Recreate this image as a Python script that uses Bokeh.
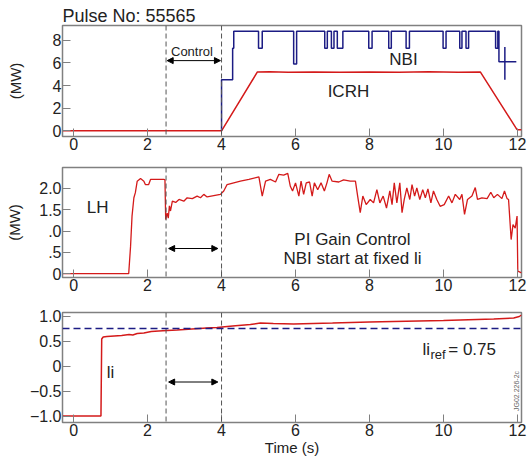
from bokeh.plotting import figure
from bokeh.models import Range1d, Span, Arrow, NormalHead, Label, FixedTicker
from bokeh.layouts import column
from bokeh.embed import file_html
from bokeh.resources import INLINE

# ---------------- data ----------------
x_ticks = [0, 2, 4, 6, 8, 10, 12]
control_start = 2.5
control_end = 4.0

# Panel 1: NBI (step changes) and ICRH power (MW)
nbi_t = [4.0, 4.0, 4.30, 4.33, 5.00, 5.10, 5.95, 6.03, 6.79, 6.86, 6.97, 7.04, 7.13, 7.28,
         7.98, 8.07, 8.52, 8.59, 8.99, 9.08, 9.99, 10.07, 10.44, 10.50, 10.61, 10.68,
         11.41, 11.47, 11.50, 11.97]
nbi_v = [0.0, 4.5, 7.3, 8.8, 7.3, 8.8, 5.9, 8.8, 7.3, 8.8, 7.3, 8.8, 7.3, 8.8,
         7.3, 8.8, 7.3, 8.8, 7.3, 8.8, 7.3, 8.8, 7.3, 8.8, 7.3, 8.8,
         7.3, 8.8, 6.1, 6.1]
nbi_spike_t = [11.66]
nbi_spike_lo = [4.5]
nbi_spike_hi = [7.4]

icrh_t = [-0.3, 4.0, 4.97, 5.3, 5.8, 6.5, 7.2, 8.0, 8.8, 9.6, 10.4, 11.0, 11.98, 12.0, 12.11]
icrh_v = [0.0, 0.0, 5.2, 5.22, 5.18, 5.2, 5.17, 5.2, 5.18, 5.21, 5.18, 5.19, 0.15, 0.1, 0.1]

# Panel 2: LH power (MW)
lh_t = [-0.3, 1.49, 1.54, 1.58, 1.63, 1.67, 1.72, 1.81, 1.90, 1.94, 2.03, 2.08, 2.44, 2.47,
        2.49, 2.53, 2.56, 2.59, 2.62, 2.67, 2.76, 2.85, 2.98, 3.07, 3.21, 3.34, 3.43, 3.52,
        3.61, 3.79, 3.97, 4.06, 4.15, 4.33, 4.51, 4.74, 5.01, 5.10, 5.19, 5.32, 5.46, 5.55,
        5.68, 5.79, 5.86, 5.92, 6.00, 6.09, 6.15, 6.22, 6.29, 6.38, 6.45, 6.51, 6.60, 6.69,
        6.78, 6.85, 6.91, 6.99, 7.17, 7.30, 7.48, 7.62, 7.68, 7.75, 7.82, 7.91, 8.02, 8.11,
        8.20, 8.28, 8.37, 8.46, 8.55, 8.61, 8.67, 8.74, 8.82, 8.88, 8.94, 9.01, 9.09, 9.15,
        9.22, 9.28, 9.36, 9.44, 9.51, 9.58, 9.66, 9.73, 9.82, 9.91, 10.02, 10.14, 10.23,
        10.32, 10.44, 10.50, 10.57, 10.65, 10.77, 10.86, 10.92, 11.04, 11.18, 11.28, 11.36,
        11.46, 11.58, 11.65, 11.72, 11.76, 11.83, 11.88, 11.94, 11.99, 12.01, 12.11]
lh_v = [0.0, 0.0, 0.64, 1.35, 1.78, 1.90, 2.17, 2.23, 2.17, 2.09, 2.09, 2.21, 2.21, 2.20,
        1.27, 1.42, 1.30, 1.59, 1.47, 1.70, 1.67, 1.74, 1.70, 1.78, 1.76, 1.82, 1.78, 1.86,
        1.80, 1.83, 1.86, 1.94, 2.09, 2.13, 2.17, 2.21, 2.27, 1.82, 2.17, 2.21, 2.15, 2.33,
        2.31, 2.35, 2.05, 1.94, 2.13, 1.82, 2.17, 1.86, 2.13, 2.15, 1.82, 2.13, 1.97, 2.13,
        1.94, 2.13, 2.33, 2.17, 2.15, 2.20, 2.17, 2.17, 1.82, 1.43, 1.82, 1.62, 1.74, 1.66,
        1.97, 1.66, 1.82, 1.54, 1.94, 1.62, 2.13, 1.66, 2.13, 1.43, 1.74, 2.01, 1.74, 2.09,
        1.82, 2.01, 1.74, 1.97, 1.78, 1.99, 1.66, 1.94, 1.74, 1.58, 1.62, 1.82, 1.66,
        1.86, 1.74, 1.86, 1.39, 1.74, 1.82, 2.02, 1.74, 1.78, 1.76, 1.91, 1.78,
        1.86, 1.76, 1.94, 1.76, 1.74, 0.80, 1.15, 1.07, 1.35, 0.06, 0.02]

# Panel 3: internal inductance li
li_t = [-0.3, 0.74, 0.76, 0.80, 0.90, 1.10, 1.30, 1.50, 1.60, 1.72, 1.90, 2.10, 2.30, 2.53,
        2.80, 3.20, 3.60, 3.88, 4.30, 4.78, 5.05, 5.40, 5.95, 7.00, 8.00, 8.65, 10.00,
        11.36, 11.90, 12.05, 12.11]
li_v = [-1.0, -1.0, 0.54, 0.58, 0.59, 0.60, 0.61, 0.63, 0.62, 0.65, 0.66, 0.69, 0.70, 0.71,
        0.72, 0.74, 0.76, 0.77, 0.80, 0.83, 0.86, 0.85, 0.84, 0.86, 0.88, 0.89, 0.91,
        0.94, 0.96, 0.99, 1.02]
li_ref = 0.75

p1_yticks = [0, 2, 4, 6, 8]
p2_yticks = [0, 0.5, 1.0, 1.5, 2.0]
p2_ylabels = ["0", ".5", ".0", "1.5", "2.0"]
p3_yticks = [-1.0, -0.5, 0, 0.5, 1.0]
p3_ylabels = ["\u22121.0", "\u22120.5", "0", "0.5", "1.0"]

# ---------------- style ----------------
FONT = "Liberation Sans"
RED = "#d41a1a"
BLUE = "#1c1c84"
GRAY = "#808080"
TXT = "#222222"


def make_fig(frame_h, yr, yticks, ylabels, border_top, border_bottom):
    p = figure(frame_width=459, frame_height=frame_h,
               x_range=Range1d(-0.3, 12.11), y_range=Range1d(*yr),
               output_backend="svg", toolbar_location=None,
               min_border_left=62, min_border_right=8,
               min_border_top=border_top, min_border_bottom=border_bottom)
    p.outline_line_color = GRAY
    p.outline_line_width = 1.5
    p.grid.visible = False
    for ax in list(p.xaxis) + list(p.yaxis):
        ax.major_tick_in = 8
        ax.major_tick_out = 0
        ax.minor_tick_in = 0
        ax.minor_tick_out = 0
        ax.axis_line_color = GRAY
        ax.major_tick_line_color = GRAY
        ax.major_label_text_font = FONT
        ax.major_label_text_font_size = "16px"
        ax.major_label_text_color = TXT
        ax.major_label_standoff = 1
        ax.axis_label_text_font = FONT
        ax.axis_label_text_font_size = "15px"
        ax.axis_label_text_font_style = "normal"
        ax.axis_label_text_color = TXT
    p.xaxis.ticker = FixedTicker(ticks=x_ticks)
    p.yaxis.ticker = FixedTicker(ticks=yticks)
    p.yaxis.major_label_overrides = {t: s for t, s in zip(yticks, ylabels)}
    for loc in (control_start, control_end):
        p.add_layout(Span(location=loc, dimension="height", line_color="#555555",
                          line_dash="5 3", line_width=1))
    return p


def label(p, x, y, text, size="17px", align="center", angle=0, color=TXT,
          baseline="middle"):
    p.add_layout(Label(x=x, y=y, text=text, text_font=FONT, text_font_size=size,
                       text_align=align, text_baseline=baseline, angle=angle,
                       text_color=color))


def darrow(p, y, x0, x1):
    p.add_layout(Arrow(x_start=x0, x_end=x1, y_start=y, y_end=y, line_width=1,
                       line_color="black",
                       start=NormalHead(size=6, fill_color="black", line_color="black"),
                       end=NormalHead(size=6, fill_color="black", line_color="black")))


# Panel 1
p1 = make_fig(111, (-0.5, 9.3), p1_yticks, [str(t) for t in p1_yticks], 25, 27)
p1.title.text = "Pulse No: 55565"
p1.title.text_font = FONT
p1.title.text_font_size = "18px"
p1.title.text_font_style = "normal"
p1.title.text_color = TXT
p1.title.align = "left"
p1.title.standoff = 0
p1.yaxis.axis_label = "(MW)"
p1.yaxis.axis_label_standoff = 26
p1.line(icrh_t, icrh_v, line_color=RED, line_width=1.5)
p1.step(nbi_t, nbi_v, mode="after", line_color=BLUE, line_width=1.5)
p1.segment(x0=nbi_spike_t, x1=nbi_spike_t, y0=nbi_spike_lo, y1=nbi_spike_hi,
           line_color=BLUE, line_width=1.5)
darrow(p1, 6.2, control_start + 0.03, control_end - 0.03)
label(p1, 3.2, 7.0, "Control", size="13px")
label(p1, 8.92, 6.3, "NBI")
label(p1, 7.43, 3.45, "ICRH")

# Panel 2
p2 = make_fig(110, (-0.09, 2.49), p2_yticks, p2_ylabels, 4, 27)
p2.yaxis.axis_label = "(MW)"
p2.yaxis.axis_label_standoff = 13
p2.line(lh_t, lh_v, line_color=RED, line_width=1.3)
darrow(p2, 0.59, 2.57, 3.9)
label(p2, 0.65, 1.55, "LH")
label(p2, 7.54, 0.8, "PI Gain Control")
label(p2, 7.54, 0.35, "NBI start at fixed li")

# Panel 3
p3 = make_fig(110, (-1.13, 1.07), p3_yticks, p3_ylabels, 8, 37)
p3.xaxis.axis_label = "Time (s)"
p3.xaxis.axis_label_standoff = 0
p3.add_layout(Span(location=li_ref, dimension="width", line_color=BLUE,
                   line_dash="7 4", line_width=1.5))
p3.line(li_t, li_v, line_color=RED, line_width=1.5)
darrow(p3, -0.32, 2.57, 3.9)
label(p3, 1.0, -0.13, "li")
label(p3, 9.43, 0.33, "li", align="left")
label(p3, 9.65, 0.23, "ref", size="13px", align="left")
label(p3, 10.13, 0.33, "= 0.75", align="left")
label(p3, 11.97, -0.5, "JG02.226-2c", size="7px", angle=1.5708, color="#666666")

layout = column(p1, p2, p3)
open("out.html", "w").write(file_html(layout, INLINE))
